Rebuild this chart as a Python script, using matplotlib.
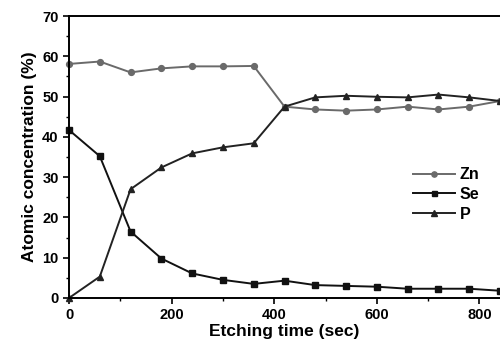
import matplotlib
matplotlib.use("Agg")
import matplotlib.pyplot as plt
from matplotlib.ticker import MultipleLocator

plt.rcParams['font.family'] = ['Liberation Sans', 'DejaVu Sans']
plt.rcParams['font.weight'] = 'bold'

time_sec = [0, 60, 120, 180, 240, 300, 360, 420, 480, 540, 600, 660, 720, 780, 840]
zn = [58.1, 58.7, 56.0, 57.0, 57.5, 57.5, 57.6, 47.5, 46.8, 46.5, 46.8, 47.5, 46.8, 47.5, 48.9]
se = [41.7, 35.2, 16.5, 9.8, 6.1, 4.5, 3.5, 4.3, 3.2, 3.0, 2.8, 2.3, 2.3, 2.3, 1.8]
p = [0.0, 5.3, 27.0, 32.4, 35.9, 37.4, 38.4, 47.5, 49.8, 50.2, 49.95, 49.8, 50.5, 49.8, 48.9]

fig = plt.figure(figsize=(5.0, 3.48), dpi=100)
ax = fig.add_axes([0.138, 0.1437, 0.862, 0.8103])

ax.plot(time_sec, zn, color='#6a6a6a', marker='o', markersize=4.2, lw=1.4, label='Zn', clip_on=False)
ax.plot(time_sec, se, color='#111111', marker='s', markersize=4.0, lw=1.4, label='Se', clip_on=False)
ax.plot(time_sec, p, color='#222222', marker='^', markersize=5.0, lw=1.4, label='P', clip_on=False)

ax.set_xlim(0, 840)
ax.set_ylim(0, 70)
ax.xaxis.set_major_locator(MultipleLocator(200))
ax.xaxis.set_minor_locator(MultipleLocator(100))
ax.yaxis.set_major_locator(MultipleLocator(10))
ax.yaxis.set_minor_locator(MultipleLocator(5))
ax.tick_params(which='major', direction='out', length=4, width=1.2, labelsize=10.5)
ax.tick_params(which='minor', direction='out', length=2.5, width=1.0)
for s in ['left', 'bottom', 'top']:
    ax.spines[s].set_linewidth(1.4)
ax.spines['right'].set_visible(False)
for lbl in ax.get_xticklabels() + ax.get_yticklabels():
    lbl.set_fontweight('bold')

ax.set_xlabel('Etching time (sec)', fontsize=12.5, fontweight='bold', labelpad=1)
ax.set_ylabel('Atomic concentration (%)', fontsize=12.5, fontweight='bold', labelpad=4)

leg = ax.legend(loc='upper left', bbox_to_anchor=(0.765, 0.515), frameon=False, numpoints=1,
                handlelength=2.6, handletextpad=0.3, labelspacing=0.3,
                prop={'weight': 'bold', 'size': 11.5}, markerscale=0.9)

fig.savefig('out.png', dpi=100)
